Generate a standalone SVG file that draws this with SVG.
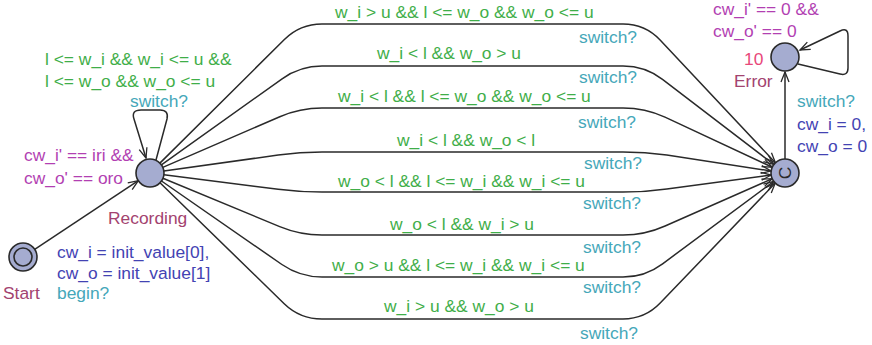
<svg xmlns="http://www.w3.org/2000/svg" width="872" height="345" viewBox="0 0 872 345">
  <style>
    text { font-family: "Liberation Sans", Arial, sans-serif; font-size: 17.4px; }
    .guard { fill: #3fae49; }
    .sync { fill: #45a7b9; }
    .upd { fill: #4343b3; }
    .inv { fill: #b23fb2; }
    .name { fill: #a3436f; }
    .rate { fill: #e8487a; }
    .loc { fill: #a5acd0; stroke: #2a2a2a; stroke-width: 1.6; }
    .edge { fill: none; stroke: #2a2a2a; stroke-width: 1.5; }
  </style>
  <defs>
    <marker id="arr" viewBox="-12 -6 14 12" refX="0" refY="0" markerWidth="14" markerHeight="12" markerUnits="userSpaceOnUse" orient="auto">
      <path d="M-10,-4 L0,0 L-10,4" fill="none" stroke="#2a2a2a" stroke-width="1.3"/>
    </marker>
  </defs>

  <!-- transitions -->
  <g id="edges">
    <path class="edge" marker-end="url(#arr)" d="M34.7,249.3 L138.3,180.7"/>
    <path class="edge" marker-end="url(#arr)" d="M156,160 L167,119 Q169,110 160,110 L141,110 Q131,110 134,119 L146,158"/>
    <path class="edge" marker-end="url(#arr)" d="M159.9,163.1 L284.4,39.5 Q300,24 322,24 L623,24 Q645,24 660.1,40 L775.4,162.8"/>
    <path class="edge" marker-end="url(#arr)" d="M161.4,164.9 L282.1,78.8 Q300,66 322,66 L623,66 Q645,66 662.5,79.3 L773.8,164.5"/>
    <path class="edge" marker-end="url(#arr)" d="M162.8,167.4 L279.8,116.7 Q300,108 322,108 L623,108 Q645,108 665,117.1 L772.3,167.2"/>
    <path class="edge" marker-end="url(#arr)" d="M163.9,171.1 L278.2,155 Q300,152 322,152 L623,152 Q645,152 666.8,155.1 L771.1,171"/>
    <path class="edge" marker-end="url(#arr)" d="M163.9,174.8 L278.2,189.2 Q300,192 322,192 L623,192 Q645,192 666.8,188.9 L771.1,175"/>
    <path class="edge" marker-end="url(#arr)" d="M162.9,178.3 L279.7,226.6 Q300,235 322,235 L623,235 Q645,235 665.1,226 L772.2,178.7"/>
    <path class="edge" marker-end="url(#arr)" d="M161.5,181 L281.9,264.5 Q300,277 322,277 L623,277 Q645,277 662.6,263.8 L773.8,181.4"/>
    <path class="edge" marker-end="url(#arr)" d="M160,182.8 L284.2,303.7 Q300,319 322,319 L623,319 Q645,319 660.2,303.1 L775.3,183.1"/>
    <path class="edge" marker-end="url(#arr)" d="M785,159 L785,72"/>
    <path class="edge" marker-end="url(#arr)" d="M798,64 L840,74 Q848,76 848,68 L848,36 Q848,27 840,31 L800,50"/>
  </g>

  <!-- transition labels -->
  <g id="edge-labels">
    <text class="upd" x="57" y="258">cw_i = init_value[0],</text>
    <text class="upd" x="57" y="279">cw_o = init_value[1]</text>
    <text class="sync" x="57" y="299">begin?</text>

    <text class="guard" x="45" y="65">l &lt;= w_i &amp;&amp; w_i &lt;= u &amp;&amp;</text>
    <text class="guard" x="45" y="87">l &lt;= w_o &amp;&amp; w_o &lt;= u</text>
    <text class="sync" x="130" y="107">switch?</text>

    <text class="guard" x="335" y="18">w_i &gt; u &amp;&amp; l &lt;= w_o &amp;&amp; w_o &lt;= u</text>
    <text class="sync" x="579" y="43">switch?</text>
    <text class="guard" x="377" y="59">w_i &lt; l &amp;&amp; w_o &gt; u</text>
    <text class="sync" x="579" y="83">switch?</text>
    <text class="guard" x="338" y="102">w_i &lt; l &amp;&amp; l &lt;= w_o &amp;&amp; w_o &lt;= u</text>
    <text class="sync" x="578" y="128">switch?</text>
    <text class="guard" x="397" y="146">w_i &lt; l &amp;&amp; w_o &lt; l</text>
    <text class="sync" x="584" y="169">switch?</text>
    <text class="guard" x="338" y="187">w_o &lt; l &amp;&amp; l &lt;= w_i &amp;&amp; w_i &lt;= u</text>
    <text class="sync" x="583" y="209">switch?</text>
    <text class="guard" x="390" y="230">w_o &lt; l &amp;&amp; w_i &gt; u</text>
    <text class="sync" x="583" y="253">switch?</text>
    <text class="guard" x="332" y="271">w_o &gt; u &amp;&amp; l &lt;= w_i &amp;&amp; w_i &lt;= u</text>
    <text class="sync" x="583" y="293">switch?</text>
    <text class="guard" x="384" y="312">w_i &gt; u &amp;&amp; w_o &gt; u</text>
    <text class="sync" x="580" y="339">switch?</text>

    <text class="sync" x="797" y="107">switch?</text>
    <text class="upd" x="797" y="130">cw_i = 0,</text>
    <text class="upd" x="797" y="152">cw_o = 0</text>
  </g>

  <!-- locations -->
  <g id="start">
    <circle class="loc" cx="23" cy="257" r="14"/>
    <circle cx="23" cy="257" r="9" fill="none" stroke="#2a2a2a" stroke-width="1.6"/>
    <text class="name" x="3" y="299">Start</text>
  </g>

  <g id="recording">
    <circle class="loc" cx="150" cy="173" r="14"/>
    <text class="name" x="108" y="224">Recording</text>
    <text class="inv" x="24" y="161">cw_i' == iri &amp;&amp;</text>
    <text class="inv" x="24" y="184">cw_o' == oro</text>
  </g>

  <g id="committed">
    <circle class="loc" cx="785" cy="173" r="14"/>
    <text transform="rotate(-90 785 173)" x="785" y="178.5" text-anchor="middle" font-size="15" fill="#2a2a2a">C</text>
  </g>

  <g id="error">
    <circle class="loc" cx="785" cy="57" r="14"/>
    <text class="rate" x="744" y="65">10</text>
    <text class="name" x="734" y="87">Error</text>
    <text class="inv" x="713" y="15">cw_i' == 0 &amp;&amp;</text>
    <text class="inv" x="713" y="37">cw_o' == 0</text>
  </g>
</svg>
